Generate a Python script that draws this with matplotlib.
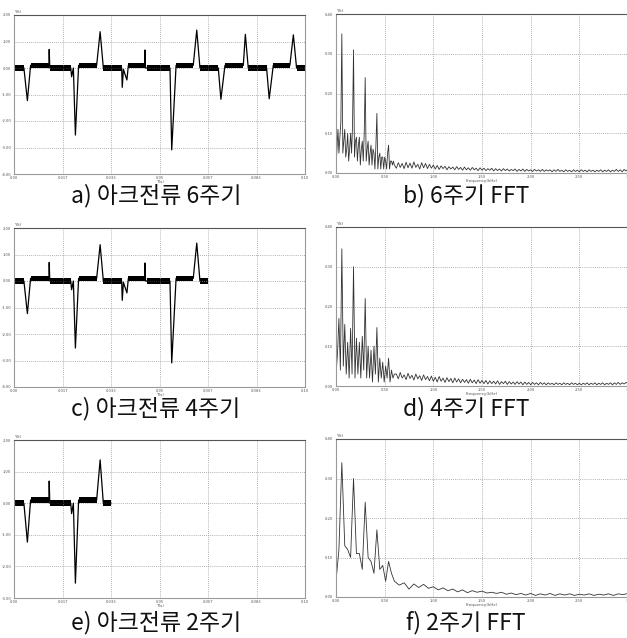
import matplotlib
matplotlib.use("Agg")
import matplotlib.pyplot as plt
import numpy as np

plt.rcParams['font.family'] = ['Noto Sans CJK KR', 'DejaVu Sans']

# arc current waveform (6 cycles) ------------------------------------------
wave_t = [0.0, 0.0034, 0.0046, 0.0057, 0.0120, 0.0121, 0.0123, 0.0195, 0.0198,
          0.0204, 0.0211, 0.0222, 0.0284, 0.0296, 0.0307, 0.0333, 0.0370, 0.0372,
          0.0376, 0.0388, 0.0393, 0.0449, 0.0450, 0.0452, 0.0536, 0.0542, 0.0557,
          0.0616, 0.0628, 0.0639, 0.0667, 0.0702, 0.0711, 0.0725, 0.0788, 0.0795,
          0.0805, 0.0868, 0.0877, 0.0891, 0.0948, 0.0960, 0.0971, 0.1000]
wave_y = [0.0, 0.0, -1.23, 0.1, 0.1, 0.70, 0.0, 0.0, -0.33,
          0.0, -2.53, 0.1, 0.1, 1.37, 0.0, 0.0, 0.0, -0.73,
          -0.05, -0.45, 0.1, 0.1, 0.68, 0.0, 0.0, -3.09, 0.1,
          0.1, 1.43, 0.0, 0.0, 0.0, -1.18, 0.1, 0.1, 1.27,
          0.0, 0.0, -1.16, 0.1, 0.1, 1.25, 0.0, 0.0]
# noisy flat parts: start, end, level
band_start = [0.0, 0.0057, 0.0123, 0.0222, 0.0307, 0.0393, 0.0456, 0.0557, 0.0639, 0.0725, 0.0805, 0.0891, 0.0971]
band_end = [0.0034, 0.0120, 0.0197, 0.0284, 0.0370, 0.0449, 0.0536, 0.0616, 0.0702, 0.0788, 0.0868, 0.0948, 0.1000]
band_level = [0.0, 0.1, 0.0, 0.1, 0.0, 0.1, 0.0, 0.1, 0.0, 0.1, 0.0, 0.1, 0.0]
band_half = 0.1

# FFT spectra ---------------------------------------------------------------
fft6_low = [0.02, 0.06, 0.11, 0.05, 0.09, 0.13, 0.35, 0.05, 0.08, 0.11,
            0.04, 0.06, 0.10, 0.03, 0.06, 0.10, 0.05, 0.12, 0.31, 0.04,
            0.08, 0.09, 0.03, 0.07, 0.09, 0.02, 0.06, 0.08, 0.03, 0.10,
            0.24, 0.03, 0.06, 0.08, 0.02, 0.05, 0.07, 0.02, 0.06, 0.05,
            0.01, 0.07, 0.15, 0.01, 0.04, 0.05, 0.01, 0.04, 0.04, 0.01,
            0.04, 0.03, 0.01, 0.05, 0.07, 0.01, 0.03, 0.03, 0.02, 0.03, 0.02]
fft6_tail = [0.012, 0.026, 0.014, 0.024, 0.011, 0.027, 0.013, 0.025, 0.012, 0.028,
             0.014, 0.022, 0.010, 0.026, 0.013, 0.024, 0.011, 0.022, 0.012, 0.020,
             0.010, 0.019, 0.009, 0.018, 0.011, 0.017, 0.008, 0.016, 0.010, 0.015,
             0.008, 0.016, 0.009, 0.014, 0.007, 0.015, 0.008, 0.013, 0.007, 0.014,
             0.008, 0.012, 0.006, 0.013, 0.007, 0.012, 0.006, 0.011, 0.007, 0.012,
             0.005, 0.011, 0.006, 0.010, 0.005, 0.011, 0.006, 0.010, 0.005, 0.009,
             0.006, 0.010, 0.004, 0.009, 0.005, 0.010, 0.004, 0.009, 0.005, 0.008,
             0.004, 0.009, 0.005, 0.008, 0.004, 0.009, 0.004, 0.008, 0.005, 0.008,
             0.003, 0.008, 0.004, 0.009, 0.004, 0.007, 0.003, 0.008, 0.004, 0.007,
             0.003, 0.008, 0.004, 0.007, 0.003, 0.008, 0.004, 0.007, 0.003, 0.008,
             0.004, 0.007, 0.003, 0.007, 0.004, 0.008, 0.003, 0.007, 0.004, 0.008,
             0.003, 0.007, 0.004, 0.009, 0.004, 0.008, 0.003, 0.009, 0.005, 0.010]
fft4_low = [0.03, 0.08, 0.17, 0.04, 0.345, 0.05, 0.155, 0.03, 0.11, 0.02,
            0.145, 0.03, 0.30, 0.02, 0.12, 0.03, 0.11, 0.02, 0.125, 0.04,
            0.22, 0.02, 0.10, 0.02, 0.09, 0.01, 0.10, 0.03, 0.147, 0.01,
            0.07, 0.02, 0.06, 0.01, 0.05, 0.02, 0.07, 0.01, 0.04, 0.02, 0.03]
fft4_tail = [0.030, 0.018, 0.034, 0.020, 0.028, 0.016, 0.032, 0.019, 0.027, 0.015,
             0.030, 0.018, 0.026, 0.014, 0.028, 0.016, 0.024, 0.013, 0.025, 0.012,
             0.022, 0.010, 0.024, 0.012, 0.020, 0.009, 0.021, 0.011, 0.019, 0.008,
             0.020, 0.010, 0.018, 0.008, 0.017, 0.009, 0.016, 0.007, 0.017, 0.008,
             0.015, 0.006, 0.016, 0.007, 0.014, 0.006, 0.014, 0.005, 0.013, 0.006,
             0.012, 0.005, 0.013, 0.004, 0.011, 0.006, 0.012, 0.004, 0.011, 0.005,
             0.010, 0.004, 0.011, 0.005, 0.010, 0.003, 0.010, 0.004, 0.009, 0.003,
             0.009, 0.004, 0.008, 0.003, 0.009, 0.004, 0.008, 0.003, 0.008, 0.004,
             0.007, 0.003, 0.008, 0.004, 0.007, 0.003, 0.008, 0.004, 0.007, 0.003,
             0.008, 0.004, 0.007, 0.003, 0.007, 0.003, 0.007, 0.004, 0.008, 0.003,
             0.007, 0.004, 0.008, 0.003, 0.007, 0.004, 0.008, 0.003, 0.007, 0.004,
             0.008, 0.003, 0.008, 0.004, 0.009, 0.004, 0.008, 0.005, 0.009, 0.006]
fft2_low = [0.04, 0.12, 0.34, 0.13, 0.12, 0.10, 0.30, 0.11, 0.11, 0.07,
            0.24, 0.10, 0.09, 0.06, 0.17, 0.07, 0.08, 0.04, 0.09, 0.06, 0.04]
fft2_tail = [0.030, 0.036, 0.020, 0.033, 0.024, 0.032, 0.022, 0.026, 0.018, 0.023,
             0.016, 0.020, 0.013, 0.018, 0.011, 0.016, 0.012, 0.015, 0.010, 0.012,
             0.009, 0.012, 0.007, 0.010, 0.006, 0.009, 0.005, 0.009, 0.004, 0.008,
             0.005, 0.009, 0.004, 0.008, 0.005, 0.008, 0.004, 0.007, 0.005, 0.008,
             0.004, 0.007, 0.005, 0.008, 0.004, 0.008, 0.006, 0.009]
# (start, step) of each list in kHz
fft6_grid = [(0.0, 0.01), (0.62, 0.02)]
fft4_grid = [(0.0, 0.015), (0.62, 0.02)]
fft2_grid = [(0.0, 0.03), (0.65, 0.05)]

t_ticks = [0.0, 1/60, 2/60, 3/60, 4/60, 5/60, 0.1]
t_labels = ["0.00", "0.017", "0.033", "0.05", "0.067", "0.083", "0.10"]
f_ticks = [0.0, 0.5, 1.0, 1.5, 2.0, 2.5, 3.0]
f_labels = ["0.00", "0.50", "1.00", "1.50", "2.00", "2.50", "3"]

captions = ["a) 아크전류 6주기", "b) 6주기 FFT", "c) 아크전류 4주기",
            "d) 4주기 FFT", "e) 아크전류 2주기", "f) 2주기 FFT"]
cycles = [6, 4, 2]
y_ranges = [(-4, 2), (-4, 2), (-3, 2)]


def style(ax):
    ax.grid(True, color="#999999", linestyle=(0, (1, 1.5)), linewidth=0.6)
    ax.tick_params(length=0, labelsize=3, colors="#555555", pad=2)
    ax.tick_params(axis="x", pad=1.5)
    for s in ax.spines.values():
        s.set_color("#999999")
        s.set_linewidth(0.8)
    ax.spines["top"].set_color("#555555")
    ax.text(0.0, 1.01, "Y(t)", transform=ax.transAxes, fontsize=3, color="#555555",
            family="DejaVu Sans")


fig = plt.figure(figsize=(6.27, 6.38), dpi=100)
W, H = 627, 638
rows = [(15, 174), (228, 387), (440, 598)]
cap_y = [196, 409, 623]

for i, (top, bot) in enumerate(rows):
    # time domain
    ax = fig.add_axes([14 / W, 1 - bot / H, 291 / W, (bot - top) / H])
    limit = cycles[i] / 60 + 1e-6
    t = np.array(wave_t)
    y = np.array(wave_y)
    keep = t <= limit
    ax.plot(t[keep], y[keep], color="black", linewidth=0.9)
    for s, e, lv in zip(band_start, band_end, band_level):
        if s < limit:
            ax.fill_between([s, min(e, limit)], lv - band_half, lv + band_half,
                            color="black", linewidth=0)
    lo, hi = y_ranges[i]
    ax.set_xlim(0, 0.1)
    ax.set_ylim(lo, hi)
    ax.set_xticks(t_ticks)
    ax.set_xticklabels(t_labels)
    ax.set_yticks(np.arange(lo, hi + 1))
    ax.set_yticklabels(["%.2f" % v for v in np.arange(lo, hi + 1)])
    ax.set_xlabel("T(s)", fontsize=3, color="#555555", labelpad=0.2, family="DejaVu Sans")
    style(ax)

    # spectrum
    ax2 = fig.add_axes([336 / W, 1 - (bot - 1) / H, 292 / W, (bot - top) / H])
    low, tail, grid = [(fft6_low, fft6_tail, fft6_grid),
                       (fft4_low, fft4_tail, fft4_grid),
                       (fft2_low, fft2_tail, fft2_grid)][i]
    f = np.concatenate([grid[0][0] + grid[0][1] * np.arange(len(low)),
                        grid[1][0] + grid[1][1] * np.arange(len(tail))])
    a = np.concatenate([low, tail])
    ax2.plot(f, a, color="#333333", linewidth=0.6)
    ax2.set_xlim(0, 3.0)
    ax2.set_ylim(0, 0.4)
    ax2.set_xticks(f_ticks)
    ax2.set_xticklabels(f_labels)
    ax2.get_xticklabels()[-1].set_horizontalalignment("right")
    ax2.set_yticks([0, 0.1, 0.2, 0.3, 0.4])
    ax2.set_yticklabels(["0.00", "0.10", "0.20", "0.30", "0.40"])
    ax2.set_xlabel("Frequency(kHz)", fontsize=3, color="#555555", labelpad=0.2, family="DejaVu Sans")
    style(ax2)

    fig.text(156 / W, 1 - cap_y[i] / H, captions[2 * i], ha="center", va="center",
             fontsize=16.5, color="#111111")
    fig.text(466 / W, 1 - cap_y[i] / H, captions[2 * i + 1], ha="center", va="center",
             fontsize=16.5, color="#111111")

fig.savefig("out.png", dpi=100)
